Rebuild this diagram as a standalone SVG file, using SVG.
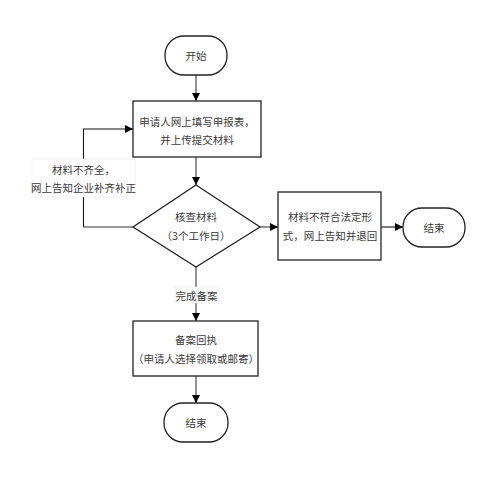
<svg xmlns="http://www.w3.org/2000/svg" width="491" height="479" viewBox="0 0 491 479">
<style>
.shape{fill:#fff;stroke:#222;stroke-width:1.3}
.t{font-family:"Noto Sans CJK SC","Liberation Sans",sans-serif;font-size:10.5px;fill:#3a3a3a;text-anchor:middle;dominant-baseline:central}
.c{fill:none;stroke:#777;stroke-width:1.6}
.k{fill:none;stroke:#111;stroke-width:1.1}
.lb{fill:#fff;stroke:#ececec;stroke-width:0.6}
</style>
<defs>
<marker id="ah" markerWidth="10" markerHeight="10" refX="8" refY="4" orient="auto" markerUnits="userSpaceOnUse">
<path d="M0,0 L8,4 L0,8 Z" fill="#000"/>
</marker>
</defs>
<rect width="491" height="479" fill="#fff"/>
<g id="connectors">
<line class="c" x1="196" y1="75" x2="196" y2="101" marker-end="url(#ah)"/>
<line class="c" x1="196" y1="157" x2="196" y2="185" marker-end="url(#ah)"/>
<line class="c" x1="133" y1="227" x2="83.5" y2="227"/>
<polyline class="k" points="83.5,227 83.5,129 133,129" marker-end="url(#ah)"/>
<line class="c" x1="260" y1="227" x2="278" y2="227" marker-end="url(#ah)"/>
<line class="k" x1="381" y1="227" x2="403" y2="227" marker-end="url(#ah)"/>
<line class="c" x1="196" y1="267" x2="196" y2="321" marker-end="url(#ah)"/>
<line class="c" x1="196" y1="376" x2="196" y2="403" marker-end="url(#ah)"/>
<g id="label-incomplete">
<rect class="lb" x="32" y="159" width="103" height="38"/>
<text class="t" x="83.5" y="169">材料不齐全，</text>
<text class="t" x="83.5" y="187">网上告知企业补齐补正</text>
</g>
<g id="label-done">
<rect class="lb" x="175" y="287" width="43" height="16"/>
<text class="t" x="196.5" y="295">完成备案</text>
</g>
</g>
<g id="start">
<rect class="shape" x="165" y="36" width="62" height="39" rx="19" ry="19"/>
<text class="t" x="196" y="55.5">开始</text>
</g>
<g id="apply">
<rect class="shape" x="133" y="101" width="128" height="56"/>
<text class="t" x="197" y="121">申请人网上填写申报表，</text>
<text class="t" x="197" y="139">并上传提交材料</text>
</g>
<g id="check">
<polygon class="shape" points="196,185 260,227 196,267 133,227"/>
<text class="t" x="196" y="216">核查材料</text>
<text class="t" x="196" y="235">（3个工作日）</text>
</g>
<g id="reject">
<rect class="shape" x="278" y="192" width="103" height="68"/>
<text class="t" x="330" y="216">材料不符合法定形</text>
<text class="t" x="330" y="235">式，网上告知并退回</text>
</g>
<g id="end-right">
<rect class="shape" x="403" y="208" width="62" height="39" rx="19" ry="19"/>
<text class="t" x="434" y="227.5">结束</text>
</g>
<g id="receipt">
<rect class="shape" x="133" y="321" width="125" height="55"/>
<text class="t" x="196" y="339">备案回执</text>
<text class="t" x="196" y="358">（申请人选择领取或邮寄）</text>
</g>
<g id="end-bottom">
<rect class="shape" x="164" y="403" width="64" height="39" rx="19" ry="19"/>
<text class="t" x="196" y="422.5">结束</text>
</g>
</svg>
